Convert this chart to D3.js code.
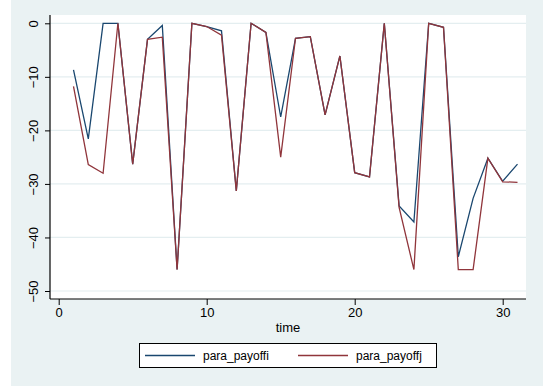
<!DOCTYPE html>
<html>
<head>
<meta charset="utf-8">
<script src="https://cdn.jsdelivr.net/npm/d3@7"></script>
<style>
  html, body { margin: 0; padding: 0; background: #ffffff; }
  svg { display: block; font-family: "Liberation Sans", Arial, sans-serif; }
</style>
</head>
<body>
<div id="container"></div>
<script>
const time = d3.range(1, 32);
const payoffI = [-8.7, -21.6, 0, 0, -26.3, -3.0, -0.4, -46.0, 0, -0.6, -1.4, -31.3, 0, -1.7, -17.5,
  -2.8, -2.5, -17.1, -6.1, -27.9, -28.7, 0, -34.1, -37.1, 0, -0.75, -43.6, -32.7, -25.2, -29.5, -26.3];
const payoffJ = [-11.8, -26.4, -28.0, 0, -26.3, -3.0, -2.6, -46.0, 0, -0.6, -2.2, -31.3, 0, -1.7, -25.0,
  -2.8, -2.5, -17.1, -6.1, -27.9, -28.7, 0, -34.4, -46.0, 0, -0.75, -46.0, -46.0, -25.2, -29.6, -29.7];
const xTicks = [0, 10, 20, 30];
const yTicks = [0, -10, -20, -30, -40, -50];
const seriesNames = ["para_payoffi", "para_payoffj"];
const seriesColors = ["#1a476f", "#90353b"];

const w = 543;
const h = 386;
const plot = { left: 50, right: 526, top: 15, bottom: 299 };

const svg = d3
  .select("#container")
  .append("svg")
  .attr("width", w)
  .attr("height", h);

// background (graph region)
svg.append("rect").attr("x", 11).attr("y", 0).attr("width", w - 11).attr("height", h).attr("fill", "#eaf2f3");
// plot region
svg
  .append("rect")
  .attr("x", plot.left)
  .attr("y", plot.top)
  .attr("width", plot.right - plot.left)
  .attr("height", plot.bottom - plot.top)
  .attr("fill", "#ffffff");

const xScale = d3.scaleLinear().domain([0, 30]).range([58.7, 502.7]);
const yScale = d3.scaleLinear().domain([0, -50]).range([23.3, 291]);

// gridlines
svg
  .append("g")
  .selectAll("line")
  .data(yTicks)
  .enter()
  .append("line")
  .attr("x1", plot.left)
  .attr("x2", plot.right)
  .attr("y1", (d) => yScale(d))
  .attr("y2", (d) => yScale(d))
  .attr("stroke", "#e4eef0")
  .attr("stroke-width", 1.2);

const fmt = (d) => String(d).replace("-", "\u2212");

// y axis
const yAxis = svg
  .append("g")
  .attr("transform", `translate(${plot.left}, 0)`)
  .call(d3.axisLeft(yScale).tickValues(yTicks).tickSize(5).tickFormat(fmt));
yAxis.select(".domain").remove();
yAxis.selectAll(".tick line").attr("stroke", "#000");
yAxis
  .selectAll(".tick text")
  .attr("x", 0)
  .attr("dy", null)
  .attr("text-anchor", "middle")
  .attr("transform", "translate(-12, 0) rotate(-90)")
  .attr("y", 0)
  .style("font-size", "13px")
  .attr("fill", "#000");
svg
  .append("line")
  .attr("x1", plot.left)
  .attr("x2", plot.left)
  .attr("y1", plot.top)
  .attr("y2", plot.bottom)
  .attr("stroke", "#000")
  .attr("stroke-width", 1.2);

// x axis
const xAxis = svg
  .append("g")
  .attr("transform", `translate(0, ${plot.bottom})`)
  .call(d3.axisBottom(xScale).tickValues(xTicks).tickSize(6).tickFormat(d3.format("d")));
xAxis.select(".domain").remove();
xAxis.selectAll(".tick line").attr("stroke", "#000");
xAxis
  .selectAll(".tick text")
  .attr("y", 18)
  .attr("dy", null)
  .style("font-size", "13px")
  .attr("fill", "#000");
svg
  .append("line")
  .attr("x1", plot.left)
  .attr("x2", plot.right)
  .attr("y1", plot.bottom)
  .attr("y2", plot.bottom)
  .attr("stroke", "#000")
  .attr("stroke-width", 1.2);

// axis title
svg
  .append("text")
  .attr("x", (plot.left + plot.right) / 2)
  .attr("y", 331.5)
  .attr("text-anchor", "middle")
  .style("font-size", "13px")
  .text("time");

// lines
const line = d3
  .line()
  .x((d) => xScale(d[0]))
  .y((d) => yScale(d[1]));

[payoffI, payoffJ].forEach((vals, i) => {
  svg
    .append("path")
    .datum(time.map((t, k) => [t, vals[k]]))
    .attr("d", line)
    .attr("fill", "none")
    .attr("stroke", seriesColors[i])
    .attr("stroke-width", 1.3)
    .attr("stroke-linejoin", "miter");
});

// legend
const legend = svg.append("g");
legend
  .append("rect")
  .attr("x", 139.5)
  .attr("y", 343.5)
  .attr("width", 297)
  .attr("height", 24)
  .attr("fill", "#fff")
  .attr("stroke", "#000")
  .attr("stroke-width", 1);
const legendX = [145, 298];
seriesNames.forEach((name, i) => {
  legend
    .append("line")
    .attr("x1", legendX[i])
    .attr("x2", legendX[i] + 50)
    .attr("y1", 355.5)
    .attr("y2", 355.5)
    .attr("stroke", seriesColors[i])
    .attr("stroke-width", 1.3);
  legend
    .append("text")
    .attr("x", legendX[i] + 58)
    .attr("y", 360)
    .style("font-size", "12px")
    .text(name);
});
</script>
</body>
</html>
